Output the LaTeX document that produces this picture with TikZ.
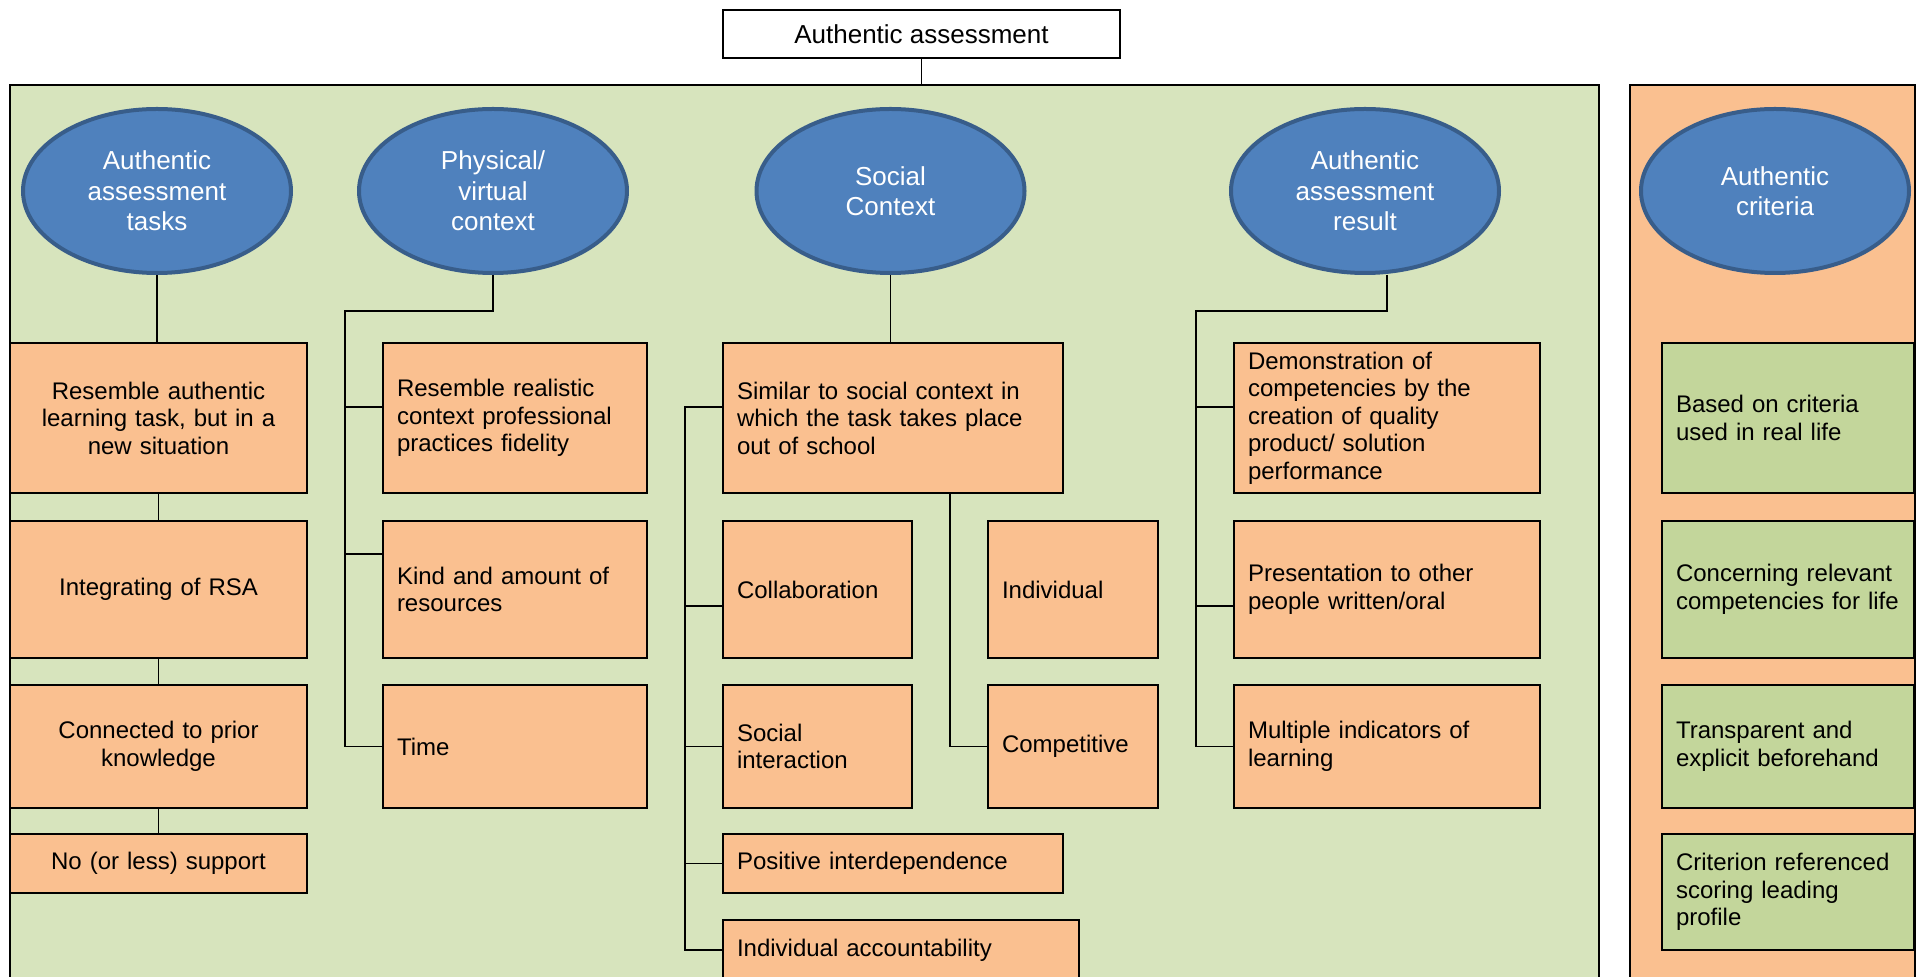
\documentclass[tikz,border=0pt]{standalone}
\usepackage{fontspec}
\setmainfont{Liberation Sans}
\usetikzlibrary{shapes.geometric,calc}

\definecolor{panelgreen}{HTML}{D7E4BD}
\definecolor{boxorange}{HTML}{FAC090}
\definecolor{boxgreen}{HTML}{C3D69B}
\definecolor{ovalblue}{HTML}{4F81BD}
\definecolor{ovalline}{HTML}{385D8A}

\tikzset{
  panel/.style={draw, line width=1.1pt, inner sep=0pt},
  topic/.style={ellipse, draw=ovalline, fill=ovalblue, line width=2pt, inner sep=0pt,
    minimum width=134pt, minimum height=82pt, text=white, align=center,
    font=\fontsize{13}{15.25}\selectfont},
  item/.style={draw, fill=boxorange, line width=1.1pt, inner xsep=7pt, inner ysep=0pt,
    align=left, font=\fontsize{12}{13.75}\selectfont},
  citem/.style={item, align=center},
  crit/.style={item, fill=boxgreen},
  link/.style={line width=0.9pt}
}

\begin{document}
\begin{tikzpicture}[x=0.5pt,y=-0.5pt]
  \useasboundingbox (0,0) rectangle (1918,977);
  \clip (0,0) rectangle (1918,977);

  \node[panel, fill=panelgreen, minimum width=794.5pt, minimum height=460pt] (main) at (804.5,545) {};
  \node[panel, fill=boxorange, minimum width=142.5pt, minimum height=460pt] (side) at (1772.5,545) {};
  \node[draw, line width=1.1pt, fill=white, minimum width=198.5pt, minimum height=24pt,
    font=\fontsize{13}{15}\selectfont] (top) at (921.5,34) {Authentic assessment};

  \node[topic] (e1) at (157,191) {Authentic\\assessment\\tasks};
  \node[topic] (e2) at (493,191) {Physical/\\virtual\\context};
  \node[topic] (e3) at (890.5,191) {Social\\Context};
  \node[topic] (e4) at (1365,191) {Authentic\\assessment\\result};
  \node[topic] (e5) at (1775,191) {Authentic\\criteria};

  \node[citem, text width=134.5pt, minimum height=75pt] (a1) at (158.5,418) {Resemble authentic\\learning task, but in a\\new situation};
  \node[citem, text width=134.5pt, minimum height=68.5pt] (a2) at (158.5,589.5) {Integrating of RSA};
  \node[citem, text width=134.5pt, minimum height=61.5pt] (a3) at (158.5,746.5) {Connected to prior\\knowledge};
  \node[citem, text width=134.5pt, minimum height=29.5pt] (a4) at (158.5,863.5) {No (or less) support};

  \node[item, text width=118pt, minimum height=75pt] (p1) at (515,418) {Resemble realistic\\context professional\\practices fidelity};
  \node[item, text width=118pt, minimum height=68.5pt] (p2) at (515,589.5) {Kind and amount of\\resources};
  \node[item, text width=118pt, minimum height=61.5pt] (p3) at (515,746.5) {Time};

  \node[item, text width=156pt, minimum height=75pt] (s0) at (893,418) {Similar to social context in\\which the task takes place\\out of school};
  \node[item, text width=80.5pt, minimum height=68.5pt] (s1) at (817.5,589.5) {Collaboration};
  \node[item, text width=80.5pt, minimum height=61.5pt] (s2) at (817.5,746.5) {Social\\interaction};
  \node[item, text width=156pt, minimum height=29.5pt] (s3) at (893,863.5) {Positive interdependence};
  \node[item, text width=164pt, minimum height=30pt] (s4) at (901,950) {Individual accountability};
  \node[item, text width=71pt, minimum height=68.5pt] (s5) at (1073,589.5) {Individual};
  \node[item, text width=71pt, minimum height=61.5pt] (s6) at (1073,746.5) {Competitive};

  \node[item, text width=139pt, minimum height=75pt] (r1) at (1387,418) {Demonstration of\\competencies by the\\creation of quality\\product/ solution\\performance};
  \node[item, text width=139pt, minimum height=68.5pt] (r2) at (1387,589.5) {Presentation to other\\people written/oral};
  \node[item, text width=139pt, minimum height=61.5pt] (r3) at (1387,746.5) {Multiple indicators of\\learning};

  \node[crit, text width=112pt, minimum height=75pt] (c1) at (1788,418) {Based on criteria\\used in real life};
  \node[crit, text width=112pt, minimum height=68.5pt] (c2) at (1788,589.5) {Concerning relevant\\competencies for life};
  \node[crit, text width=112pt, minimum height=61.5pt] (c3) at (1788,746.5) {Transparent and\\explicit beforehand};
  \node[crit, text width=112pt, minimum height=58pt] (c4) at (1788,892) {Criterion referenced\\scoring leading\\profile};

  \coordinate (pbus) at ($(a1.east)!0.5!(p1.west)$);
  \coordinate (sbus) at ($(p1.east)!0.5!(s0.west)$);
  \coordinate (tbus) at ($(s1.east)!0.5!(s5.west)$);
  \coordinate (rbus) at ($(s5.east)!0.5!(r1.west)$);
  \coordinate (p1in) at ([yshift=5.5pt]p1.west);
  \coordinate (p2in) at ([yshift=17.75pt]p2.west);
  \coordinate (s0in) at ([yshift=5.5pt]s0.west);
  \coordinate (s1in) at ([yshift=-8.25pt]s1.west);
  \coordinate (r1in) at ([yshift=5.5pt]r1.west);
  \coordinate (r2in) at ([yshift=-8.25pt]r2.west);

  \draw[link] (top.south) -- (top.south |- main.north);

  \draw[link] (e1.south) -- (e1.south |- a1.north);
  \draw[link] (a1.south) -- (a2.north);
  \draw[link] (a2.south) -- (a3.north);
  \draw[link] (a3.south) -- (a4.north);

  \draw[link] (e2.south) -- ++(0,36) -| (pbus |- p3.west) -- (p3.west);
  \draw[link] (p1in) -- (p1in -| pbus);
  \draw[link] (p2in) -- (p2in -| pbus);

  \draw[link] (e3.south) -- (e3.south |- s0.north);
  \draw[link] (s0in) -- (s0in -| sbus) -- (sbus |- s4.west) -- (s4.west);
  \draw[link] (s1in) -- (s1in -| sbus);
  \draw[link] (s2.west) -- (s2.west -| sbus);
  \draw[link] (s3.west) -- (s3.west -| sbus);
  \draw[link] (s0.south -| tbus) -- (tbus |- s6.west) -- (s6.west);

  \draw[link] (e4.south -| r1.north) -- ++(0,36) -| (rbus |- r3.west) -- (r3.west);
  \draw[link] (r1in) -- (r1in -| rbus);
  \draw[link] (r2in) -- (r2in -| rbus);
\end{tikzpicture}
\end{document}
